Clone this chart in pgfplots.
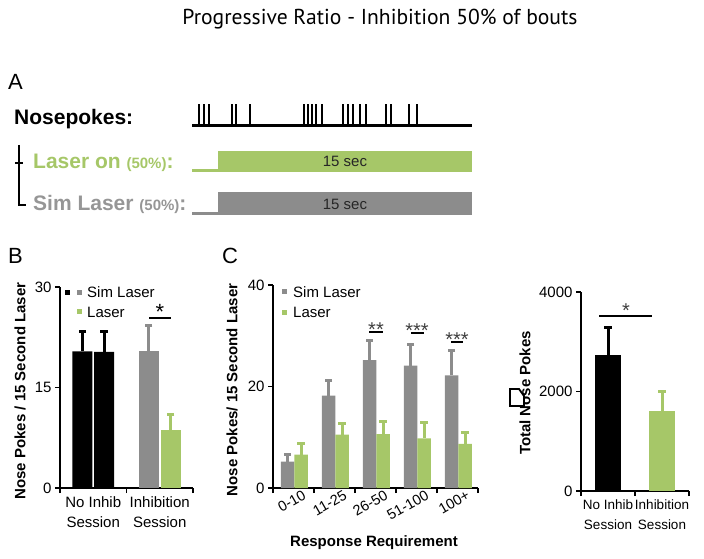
\documentclass[border=0pt]{standalone}
\usepackage{fontspec}
\setmainfont{Liberation Sans}
\newfontfamily\titlefont{PT Sans}
\usepackage{pgfplots}
\pgfplotsset{compat=1.18}
\definecolor{lgreen}{RGB}{166,199,104}
\definecolor{lgray}{RGB}{140,140,140}
\definecolor{tgray}{RGB}{150,150,150}
\pgfplotsset{
 panel/.style={
  scale only axis, axis lines=left, axis line style={-, line width=1.6pt, black},
  enlargelimits=false, clip=false,
  tick align=outside, major tick length=5pt, minor tick length=5pt,
  tick style={line width=1.6pt, black},
  major x tick style={draw=none},
  ticklabel style={font=\fontsize{15}{20}\selectfont},
  /pgf/number format/assume math mode=true,
 },
 errline/.style={#1, line width=3pt, unbounded coords=jump},
 errcap/.style={#1, only marks, mark=-, mark size=3.7pt, mark options={line width=3pt, #1}},
}
\begin{document}
\begin{tikzpicture}
\useasboundingbox (0pt,0pt) rectangle (704pt,-559pt);
% ---------- Panel A schematic ----------
\begin{axis}[at={(0pt,0pt)}, anchor=north west, scale only axis, width=704pt, height=559pt,
  xmin=0, xmax=704, ymin=0, ymax=559, y dir=reverse, hide axis, clip=false]
\addplot[black, line width=2.5pt, unbounded coords=jump] coordinates {
 (199,104)(199,125) (0,nan) (204,104)(204,125) (0,nan) (209,104)(209,125) (0,nan)
 (232,104)(232,125) (0,nan) (236,104)(236,125) (0,nan) (250,104)(250,125) (0,nan)
 (304,104)(304,125) (0,nan) (308,104)(308,125) (0,nan) (312,104)(312,125) (0,nan)
 (316,104)(316,125) (0,nan) (322,104)(322,125) (0,nan)
 (343,104)(343,125) (0,nan) (348,104)(348,125) (0,nan) (353,104)(353,125) (0,nan)
 (360,104)(360,125) (0,nan) (366,104)(366,125) (0,nan)
 (386,104)(386,125) (0,nan) (391,104)(391,125) (0,nan)
 (409,104)(409,125) (0,nan) (417,104)(417,125)};
\addplot[black, line width=3pt] coordinates {(192,125)(472,125)};
\addplot[lgreen, line width=3pt] coordinates {(192,170)(219,170)};
\addplot[fill=lgreen, draw=none] coordinates {(218,151)(472,151)(472,172)(218,172)} -- cycle;
\addplot[lgray, line width=3pt] coordinates {(192,213)(219,213)};
\addplot[fill=lgray, draw=none] coordinates {(218,192)(472,192)(472,215)(218,215)} -- cycle;
\end{axis}
% ---------- Panel B ----------
\begin{axis}[panel, at={(60pt,-488pt)}, anchor=south west, width=133pt, height=201pt,
  xmin=-0.5, xmax=1.5, ymin=0, ymax=30, ytick={0,15,30},
  xtick={0,1}, xticklabels={{No Inhib\\Session},{Inhibition\\Session}},
  xticklabel style={align=center}, minor xtick={-0.5,0.5,1.5}]
\addplot[ybar, bar width=20pt, bar shift=0pt, fill=black, draw=none]
  coordinates {(-0.1617,20.4) (0.1617,20.3)};
\addplot[ybar, bar width=20pt, bar shift=0pt, fill=lgray, draw=none]
  coordinates {(0.8346,20.4)};
\addplot[ybar, bar width=20pt, bar shift=0pt, fill=lgreen, draw=none]
  coordinates {(1.1654,8.7)};
\addplot[errline=black] coordinates {(-0.1617,20.4)(-0.1617,23.3) (0,nan) (0.1617,20.3)(0.1617,23.3)};
\addplot[errcap=black] coordinates {(-0.1617,23.3) (0.1617,23.3)};
\addplot[errline=lgray] coordinates {(0.8346,20.4)(0.8346,24.3)};
\addplot[errcap=lgray] coordinates {(0.8346,24.3)};
\addplot[errline=lgreen] coordinates {(1.1654,8.7)(1.1654,10.9)};
\addplot[errcap=lgreen] coordinates {(1.1654,10.9)};
\end{axis}
% ---------- Panel C ----------
\begin{axis}[panel, at={(273pt,-488pt)}, anchor=south west, width=205pt, height=203pt,
  xmin=-0.5, xmax=4.5, ymin=0, ymax=40, ytick={0,20,40},
  xtick={0,1,2,3,4}, xticklabels={0-10,11-25,26-50,51-100,100+},
  xticklabel style={rotate=30, anchor=north east, inner sep=0pt, xshift=9pt, yshift=-1pt,
    font=\fontsize{14.5}{16}\selectfont},
  minor xtick={-0.5,0.5,1.5,2.5,3.5,4.5}]
\addplot[ybar, bar width=13.5pt, bar shift=0pt, fill=lgray, draw=none]
  coordinates {(-0.146,5.2) (0.854,18.2) (1.854,25.2) (2.854,24.1) (3.854,22.2)};
\addplot[ybar, bar width=13.5pt, bar shift=0pt, fill=lgreen, draw=none]
  coordinates {(0.183,6.6) (1.183,10.5) (2.183,10.6) (3.183,9.8) (4.183,8.7)};
\addplot[errline=lgray] coordinates {(-0.146,5.2)(-0.146,6.6) (0,nan) (0.854,18.2)(0.854,21.1) (0,nan)
  (1.854,25.2)(1.854,29.0) (0,nan) (2.854,24.1)(2.854,28.2) (0,nan) (3.854,22.2)(3.854,27.0)};
\addplot[errcap=lgray] coordinates {(-0.146,6.6) (0.854,21.1) (1.854,29.0) (2.854,28.2) (3.854,27.0)};
\addplot[errline=lgreen] coordinates {(0.183,6.6)(0.183,8.7) (0,nan) (1.183,10.5)(1.183,12.8) (0,nan)
  (2.183,10.6)(2.183,13.2) (0,nan) (3.183,9.8)(3.183,12.9) (0,nan) (4.183,8.7)(4.183,11.0)};
\addplot[errcap=lgreen] coordinates {(0.183,8.7) (1.183,12.8) (2.183,13.2) (3.183,12.9) (4.183,11.0)};
\end{axis}
% ---------- Panel D ----------
\begin{axis}[panel, at={(581pt,-491pt)}, anchor=south west, width=108pt, height=199pt,
  xmin=-0.5, xmax=1.5, ymin=0, ymax=4000, ytick={0,2000,4000},
  scaled y ticks=false, yticklabel style={/pgf/number format/set thousands separator={}},
  xtick={0,1}, xticklabels={{No Inhib\\Session},{Inhibition\\Session}},
  xticklabel style={align=center, font=\fontsize{13.5}{20}\selectfont}, minor xtick={-0.5,0.5,1.5}]
\addplot[ybar, bar width=26pt, bar shift=0pt, fill=black, draw=none]
  coordinates {(0,2734)};
\addplot[ybar, bar width=26pt, bar shift=0pt, fill=lgreen, draw=none]
  coordinates {(1,1608)};
\addplot[errline=black] coordinates {(0,2734)(0,3296)};
\addplot[errcap=black] coordinates {(0,3296)};
\addplot[errline=lgreen] coordinates {(1,1608)(1,2010)};
\addplot[errcap=lgreen] coordinates {(1,2010)};
\end{axis}
% ---------- Annotations ----------
\begin{scope}[x=1pt, y=-1pt]
\node[anchor=base, inner sep=0pt] at (380,25) {\titlefont\fontsize{21.6}{24}\selectfont Progressive Ratio - Inhibition 50\% of bouts};
\node[anchor=base west, inner sep=0pt] at (8,90) {\fontsize{22}{24}\selectfont A};
\node[anchor=base west, inner sep=0pt] at (8,263) {\fontsize{22}{24}\selectfont B};
\node[anchor=base west, inner sep=0pt] at (222,263) {\fontsize{22}{24}\selectfont C};
\node[anchor=base west, inner sep=0pt] at (14,125) {\bfseries\fontsize{21}{24}\selectfont Nosepokes:};
\node[anchor=base west, inner sep=0pt, text=lgreen] at (33,168) {\bfseries\fontsize{21}{24}\selectfont Laser on {\fontsize{15}{18}\selectfont(50\%)}:};
\node[anchor=base west, inner sep=0pt, text=tgray] at (33,210) {\bfseries\fontsize{21}{24}\selectfont Sim Laser {\fontsize{15}{18}\selectfont(50\%)}:};
\draw[line width=1.8pt] (19,145) -- (19,205) -- (26,205);
\draw[line width=1.8pt] (15,163) -- (23,163);
\node[anchor=center, inner sep=0pt, text=black!85] at (345,161) {\fontsize{15}{18}\selectfont 15 sec};
\node[anchor=center, inner sep=0pt, text=black!85] at (345,204) {\fontsize{15}{18}\selectfont 15 sec};
% B legend and labels
\fill[black] (65,290) rectangle (70,295);
\fill[lgray] (77,290) rectangle (82,295);
\node[anchor=base west, inner sep=0pt] at (87,297) {\fontsize{15}{18}\selectfont Sim Laser};
\fill[lgreen] (77,309) rectangle (82,314);
\node[anchor=base west, inner sep=0pt] at (87,317) {\fontsize{15}{18}\selectfont Laser};
\draw[line width=1.5pt] (149,318) -- (171,318);
\node[anchor=base, inner sep=0pt] at (160,319) {\fontsize{22}{24}\selectfont *};
\node[rotate=90, inner sep=0pt] at (20,391) {\bfseries\fontsize{15}{18}\selectfont Nose Pokes / 15 Second Laser};
% C legend and labels
\fill[lgray] (282,289) rectangle (287,294);
\node[anchor=base west, inner sep=0pt] at (293,297) {\fontsize{15}{18}\selectfont Sim Laser};
\fill[lgreen] (282,310) rectangle (287,315);
\node[anchor=base west, inner sep=0pt] at (293,317) {\fontsize{15}{18}\selectfont Laser};
\draw[line width=1.5pt] (369,332) -- (383,332);
\node[anchor=base, inner sep=0pt, text=black!75] at (376,336) {\fontsize{20}{24}\selectfont **};
\draw[line width=1.5pt] (411,333) -- (424,333);
\node[anchor=base, inner sep=0pt, text=black!75] at (417,337) {\fontsize{20}{24}\selectfont ***};
\draw[line width=1.5pt] (451,342) -- (463,342);
\node[anchor=base, inner sep=0pt, text=black!75] at (457,346) {\fontsize{20}{24}\selectfont ***};
\node[rotate=90, inner sep=0pt] at (232,390) {\bfseries\fontsize{15}{18}\selectfont Nose Pokes/ 15 Second Laser};
\node[inner sep=0pt] at (374,543) {\bfseries\fontsize{15}{18}\selectfont Response Requirement};
% D labels
\draw[line width=1.5pt] (599,316) -- (652,316);
\node[anchor=base, inner sep=0pt, text=black!75] at (626,317) {\fontsize{20}{24}\selectfont *};
\node[rotate=90, inner sep=0pt] at (525,393) {\bfseries\fontsize{15}{18}\selectfont Total Nose Pokes};
\filldraw[fill=white, draw=black, line width=1.8pt] (510,389) -- (519,389) -- (524,396) -- (524,406) -- (510,406) -- cycle;
\end{scope}
\end{tikzpicture}
\end{document}
